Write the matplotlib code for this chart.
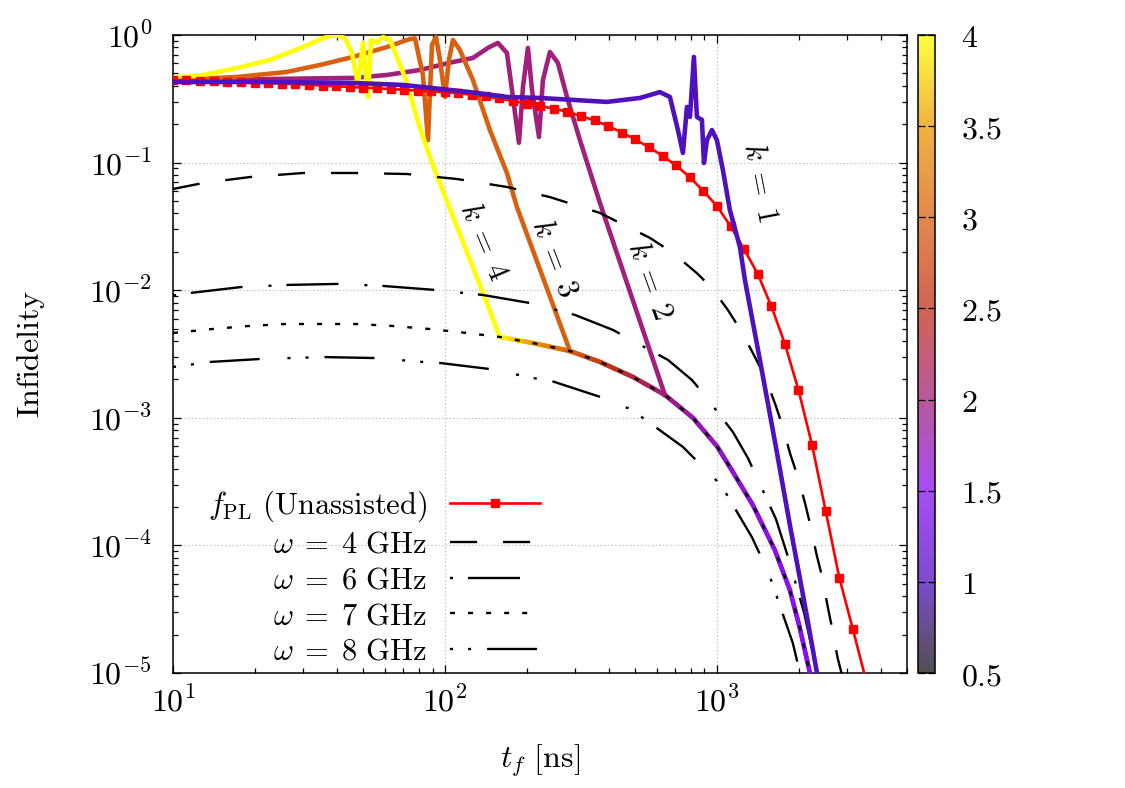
import matplotlib
matplotlib.use('Agg')
import matplotlib.pyplot as plt
import numpy as np
from matplotlib.colors import LinearSegmentedColormap, Normalize
from matplotlib.collections import LineCollection
from matplotlib.cm import ScalarMappable
from matplotlib.ticker import NullFormatter

# Estilo tipo LaTeX (Computer Modern) para todos los textos.
plt.rcParams['mathtext.fontset'] = 'cm'
plt.rcParams['font.family'] = 'DejaVu Serif'
plt.rcParams['lines.scale_dashes'] = False

# ---------------- Datos ----------------
# f_PL (sin asistencia), un punto por marcador.
t_pl = [10, 11.2, 12.6, 14.1, 15.8, 17.8, 20, 22.4, 25.1, 28.2, 31.6, 35.5, 39.8, 44.7,
        50.1, 56.2, 63.1, 70.8, 79.4, 89.1, 100, 112, 126, 141, 158, 178, 200, 224, 251,
        282, 316, 355, 398, 447, 501, 562, 631, 708, 794, 891, 1000, 1122, 1259, 1413,
        1585, 1778, 1995, 2239, 2512, 2818, 3162, 3548]
f_pl = [0.444, 0.442, 0.439, 0.436, 0.432, 0.428, 0.424, 0.42, 0.416, 0.412, 0.407, 0.402,
        0.397, 0.392, 0.387, 0.382, 0.377, 0.372, 0.367, 0.362, 0.357, 0.350, 0.340, 0.330,
        0.318, 0.304, 0.290, 0.278, 0.265, 0.250, 0.232, 0.214, 0.194, 0.172, 0.152, 0.132,
        0.113, 0.095, 0.077, 0.060, 0.0457, 0.0318, 0.0210, 0.0134, 0.0075, 0.0038, 0.00165,
        6.1e-4, 1.86e-4, 5.6e-5, 2.2e-5, 8.5e-6]

# omega = 4 GHz
t_w4 = [10, 12.9, 19.2, 30.1, 46.6, 72.4, 110.6, 169, 243, 371.5, 567, 689, 844, 959, 1097,
        1236, 1380, 1501, 1632, 1749, 1855, 1985, 2108, 2219, 2322, 2443, 2548, 2660, 2775,
        2871, 2904]
f_w4 = [0.0621, 0.0692, 0.0771, 0.0829, 0.0829, 0.0814, 0.0744, 0.0644, 0.0537, 0.0403,
        0.0257, 0.0196, 0.0136, 0.0104, 0.0070, 0.0047, 0.00299, 0.0021, 0.00131, 8.47e-4,
        5.3e-4, 3.43e-4, 2.15e-4, 1.37e-4, 8.57e-5, 5.55e-5, 3.41e-5, 2.17e-5, 1.33e-5,
        1.0e-5, 8.35e-6]

# omega = 6 GHz
t_w6 = [10, 11.55, 17.9, 26.5, 40.4, 59.2, 91.9, 138, 205, 300.6, 415, 661, 809, 889, 1145,
        1300, 1462, 1648, 1778, 1855, 2089, 2234, 2333, 2380]
f_w6 = [0.0091, 0.00951, 0.0106, 0.0110, 0.0112, 0.0108, 0.01005, 0.00917, 0.00794, 0.0064,
        0.00488, 0.00284, 0.00198, 0.00156, 7.74e-4, 4.84e-4, 2.82e-4, 1.61e-4, 9.7e-5,
        7.28e-5, 3.0e-5, 1.57e-5, 1.0e-5, 8.3e-6]

# omega = 7 GHz (la envolvente coloreada sigue esta curva)
t_w7 = [10, 13.9, 18.9, 25.8, 35.3, 47.9, 64.4, 88.1, 120.5, 159.2, 211, 288, 371.5, 491,
        644, 816, 1000, 1145, 1356, 1633, 1855, 2018, 2198, 2240]
f_w7 = [0.00462, 0.00496, 0.00524, 0.00543, 0.00543, 0.00543, 0.00524, 0.00496, 0.00462,
        0.0043, 0.00385, 0.00334, 0.00274, 0.00209, 0.00151, 0.0010, 6.0e-4, 3.76e-4,
        2.07e-4, 9.2e-5, 4.47e-5, 2.25e-5, 1.0e-5, 8.1e-6]

# omega = 8 GHz
t_w8 = [10, 13.7, 20.9, 26.9, 36.2, 55.3, 83, 95.9, 146.3, 211, 247, 371.5, 471, 530, 750,
        889, 1000, 1079, 1345, 1490, 1582, 1662, 1901, 2018, 2054]
f_w8 = [0.0025, 0.00274, 0.00289, 0.00294, 0.00299, 0.00294, 0.00274, 0.00269, 0.00241,
        0.00205, 0.00194, 0.00146, 0.00119, 0.00101, 5.91e-4, 4.11e-4, 3.2e-4, 2.57e-4,
        1.16e-4, 7.28e-5, 5.36e-5, 3.94e-5, 1.72e-5, 1.01e-5, 8.2e-6]

# Curvas k = 1..4 (antes de unirse a la envolvente)
t_k1 = [10, 22.7, 45.9, 70.2, 123.6, 169, 223.5, 295.7, 394.1, 521.6, 617, 671.6, 718.9,
        750, 776, 796, 823, 844, 881, 896, 919, 959, 1000, 1052, 1116, 1215, 1268, 1439,
        1648, 1855, 2018, 2161, 2333, 2400]
f_k1 = [0.428, 0.428, 0.421, 0.406, 0.357, 0.327, 0.321, 0.310, 0.299, 0.321, 0.357, 0.327,
        0.180, 0.119, 0.273, 0.228, 0.673, 0.228, 0.216, 0.0993, 0.150, 0.180, 0.150, 0.0875,
        0.0425, 0.0218, 0.0120, 0.00284, 5.91e-4, 1.445e-4, 5.55e-5, 2.51e-5, 1.0e-5, 7.5e-6]

t_k2 = [10, 22.7, 45.9, 61.2, 80.9, 107, 126.7, 145, 156.6, 169, 177.8, 187.1, 193.6, 201.9,
        208.9, 221.7, 229.2, 243.2, 260.2, 281, 313.6, 371.5, 643.6]
f_k2 = [0.436, 0.452, 0.461, 0.486, 0.532, 0.614, 0.661, 0.80, 0.866, 0.723, 0.327, 0.143,
        0.391, 0.791, 0.371, 0.159, 0.444, 0.736, 0.604, 0.327, 0.150, 0.0482, 0.00151]

t_k3 = [10, 17.2, 26.2, 34.7, 45.9, 61.2, 70, 74.3, 77.6, 83.0, 86.6, 89.6, 92.7, 95.9, 100,
        103.4, 107, 113.5, 126.7, 146.3, 169, 183.9, 288.2]
f_k3 = [0.444, 0.469, 0.513, 0.582, 0.673, 0.805, 0.89, 0.93, 0.94, 0.486, 0.150, 0.835,
        0.964, 0.637, 0.327, 0.637, 0.914, 0.763, 0.444, 0.180, 0.0829, 0.0449, 0.00334]

t_k4 = [10, 12.9, 17.2, 22.7, 30.1, 35, 37.7, 40.1, 42.9, 45.5, 47.9, 50.0, 52.1, 53.5, 56.2,
        59.2, 62.8, 66.6, 71.9, 79.6, 89.6, 138, 159.2]
f_k4 = [0.461, 0.486, 0.551, 0.637, 0.805, 0.93, 0.98, 0.99, 0.947, 0.723, 0.406, 0.866,
        0.327, 0.914, 0.866, 0.964, 0.914, 0.673, 0.444, 0.208, 0.0993, 0.00951, 0.0043]

# Valor de color a lo largo de la envolvente (desde t = 159 ns)
c_env = [4.0, 3.5, 3.0, 2.65, 2.3, 2.0, 1.8, 1.7, 1.65, 1.6, 1.55, 1.5, 1.5, 1.45, 1.45]

k_vals = [1, 2, 3, 4]
cbar_ticks = [0.5, 1, 1.5, 2, 2.5, 3, 3.5, 4]

# ---------------- Paleta ----------------
nodos = [(0.5, '#181414'), (1.0, '#5010c0'), (1.5, '#8a10f0'), (2.0, '#a0207a'),
         (2.5, '#c0301a'), (3.0, '#d86010'), (3.5, '#eb9800'), (4.0, '#ffff00')]
cmap = LinearSegmentedColormap.from_list('paleta', [((v - 0.5) / 3.5, c) for v, c in nodos])
norm = Normalize(vmin=0.5, vmax=4)

# ---------------- Figura ----------------
fig = plt.figure(figsize=(11.25, 7.88), dpi=100)
ax = fig.add_axes([173 / 1125, 1 - 673 / 788, 734 / 1125, 638 / 788])
ax.set_xscale('log')
ax.set_yscale('log')

fs = 22
lw_k = 3.3

# Envolvente coloreada (se subdivide cada tramo sólo para el degradado)
i0 = t_w7.index(159.2)
te = np.log10(t_w7[i0:i0 + len(c_env)])
fe = np.log10(f_w7[i0:i0 + len(c_env)])
segs, cols = [], []
for i in range(len(te) - 1):
    s = np.linspace(0, 1, 21)
    xs = te[i] + s * (te[i + 1] - te[i])
    ys = fe[i] + s * (fe[i + 1] - fe[i])
    cs = c_env[i] + s * (c_env[i + 1] - c_env[i])
    for j in range(20):
        segs.append([(10 ** xs[j], 10 ** ys[j]), (10 ** xs[j + 1], 10 ** ys[j + 1])])
        cols.append(0.5 * (cs[j] + cs[j + 1]))
lc = LineCollection(segs, cmap=cmap, norm=norm, linewidths=lw_k, capstyle='round', zorder=3)
lc.set_array(np.array(cols))
ax.add_collection(lc)

# Curvas k (k = 1 queda encima de f_PL, el resto por debajo)
for k, tk, fk in zip(k_vals, [t_k1, t_k2, t_k3, t_k4], [f_k1, f_k2, f_k3, f_k4]):
    z = 4.5 if k == 1 else 3
    ax.plot(tk, fk, color=cmap(norm(k)), lw=lw_k, zorder=z, solid_joinstyle='round')

# Curvas omega
l4, = ax.plot(t_w4, f_w4, color='black', lw=1.7, dashes=(19.5, 18.7), dash_capstyle='butt',
              label=r'$\omega\;=\;4\ \mathrm{GHz}$', zorder=4)
l6, = ax.plot(t_w6, f_w6, color='black', lw=1.7, dashes=(2.2, 10.8, 37.4, 18.7),
              dash_capstyle='butt', label=r'$\omega\;=\;6\ \mathrm{GHz}$', zorder=4)
l7, = ax.plot(t_w7, f_w7, color='black', lw=1.7, dashes=(3.6, 9.4), dash_capstyle='butt',
              label=r'$\omega\;=\;7\ \mathrm{GHz}$', zorder=4)
l8, = ax.plot(t_w8, f_w8, color='black', lw=1.7, dashes=(2.2, 10.8, 2.2, 11.5, 36, 20),
              dash_capstyle='butt', label=r'$\omega\;=\;8\ \mathrm{GHz}$', zorder=4)

# Curva f_PL
lpl, = ax.plot(t_pl, f_pl, color='red', lw=1.9, marker='s', ms=6, mfc='red', mec='red',
               label=r'$f_{\rm PL}$ $\mathrm{(Unassisted)}$', zorder=4.2)

# Etiquetas k
ax.text(1439, 0.0705, r'$k\;=\;1$', rotation=-79, ha='center', va='center', fontsize=fs)
ax.text(567, 0.012, r'$k\;=\;2$', rotation=-70, ha='center', va='center', fontsize=fs)
ax.text(253.6, 0.0179, r'$k\;=\;3$', rotation=-69, ha='center', va='center', fontsize=fs)
ax.text(139, 0.0239, r'$k\;=\;4$', rotation=-67, ha='center', va='center', fontsize=fs)

# Ejes
ax.set_xlim(10, 5000)
ax.set_ylim(1e-5, 1)
ax.set_xticks([10, 100, 1000])
ax.set_xticklabels([r'$10^{1}$', r'$10^{2}$', r'$10^{3}$'])
ax.set_yticks([1e-5, 1e-4, 1e-3, 1e-2, 1e-1, 1])
ax.set_yticklabels([r'$10^{-5}$', r'$10^{-4}$', r'$10^{-3}$', r'$10^{-2}$', r'$10^{-1}$',
                    r'$10^{0}$'])
ax.xaxis.set_minor_formatter(NullFormatter())
ax.yaxis.set_minor_formatter(NullFormatter())
ax.tick_params(which='both', direction='in', top=True, right=True, width=0.9)
ax.tick_params(which='major', length=6, labelsize=fs + 1)
ax.tick_params(which='minor', length=3.5)
ax.tick_params(axis='y', which='major', pad=15)
ax.tick_params(axis='x', which='major', pad=10)
for sp in ax.spines.values():
    sp.set_linewidth(1.1)
ax.grid(True, which='major', ls=':', color='#bdbdbd', lw=0.8)

ax.set_xlabel(r'$t_f\ [\mathrm{ns}]$', fontsize=fs + 1)
ax.xaxis.set_label_coords(0.5, -0.11)
ax.set_ylabel(r'$\mathrm{Infidelity}$', fontsize=fs + 1)
ax.yaxis.set_label_coords(-0.172, 0.5)

# Leyenda (texto a la izquierda, muestra a la derecha)
ax.legend(handles=[lpl, l4, l6, l7, l8], loc='lower right', bbox_to_anchor=(0.5, 0.01),
          frameon=False, markerfirst=False, fontsize=fs, handlelength=2.95,
          handletextpad=0.75, labelspacing=0.15, borderpad=0, borderaxespad=0)

# Barra de color
cax = fig.add_axes([918 / 1125, 1 - 673 / 788, 17 / 1125, 638 / 788])
sm = ScalarMappable(norm=norm, cmap=cmap)
cb = fig.colorbar(sm, cax=cax)
cb.solids.set_alpha(0.75)
cb.outline.set_linewidth(1.1)
cax.set_yticks(cbar_ticks)
cax.set_yticklabels(['$' + str(v) + '$' for v in cbar_ticks])
cax.tick_params(direction='in', left=True, right=True, length=5, width=0.9,
                labelsize=fs + 1, pad=19)
cax.minorticks_off()

fig.savefig('out.png', dpi=100)
